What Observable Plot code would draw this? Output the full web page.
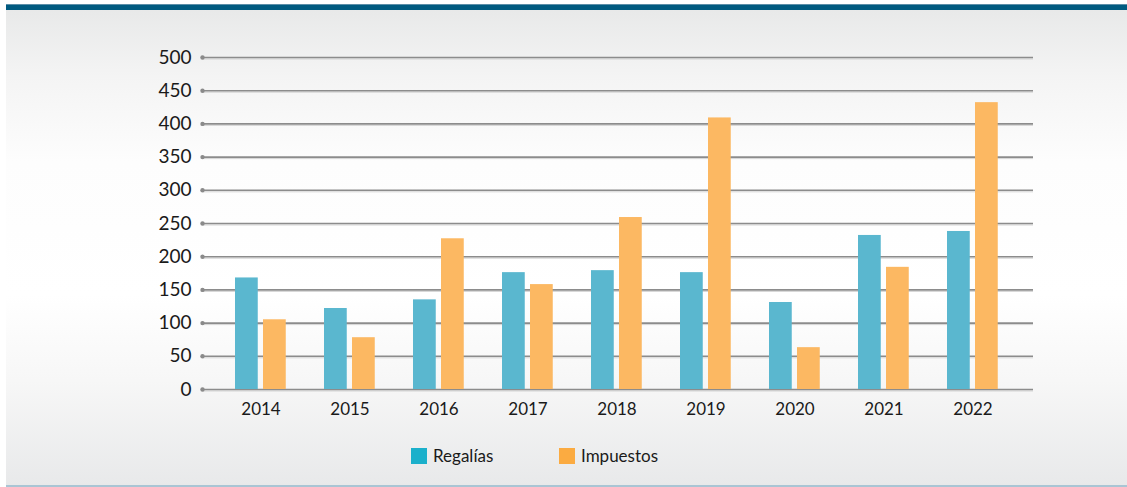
<!DOCTYPE html>
<html>
<head>
<meta charset="utf-8">
<script src="https://cdn.jsdelivr.net/npm/d3@7"></script>
<script src="https://cdn.jsdelivr.net/npm/@observablehq/plot@0.6"></script>
<style>
  html, body { margin: 0; padding: 0; background: #ffffff; }
  #panel { position: relative; width: 1127px; height: 487px; overflow: hidden; background: #ffffff; font-family: Lato, "Open Sans", sans-serif; }
  #bg { position: absolute; left: 6px; right: 0; top: 10px; height: 475px;
        background: linear-gradient(to bottom, #e8e9e9 0%, #f4f4f4 14%, #fdfdfd 32%, #ffffff 60%, #f7f7f7 78%, #e8e9ea 100%); }
  #band { position: absolute; left: 6px; right: 0; top: 4px; height: 5px; background: #005a80; border-top: 1px solid #5b8ea8; }
  #bottomline { position: absolute; left: 6px; right: 0; top: 485px; height: 2px; background: #a9c5d4; }
  #chart { position: absolute; left: 0; top: 0; }
  .leg { position: absolute; top: 445px; display: flex; align-items: center; font-size: 17px; color: #1a1a1a; }
  .sw { width: 16px; height: 16px; margin-right: 6px; }
</style>
</head>
<body>
<div id="panel">
  <div id="bg"></div>
  <div id="band"></div>
  <div id="bottomline"></div>
  <div id="chart"></div>
  <div class="leg" style="left:411px"><div class="sw" style="background:#1bb0cb"></div><span id="l0"></span></div>
  <div class="leg" style="left:559px"><div class="sw" style="background:#fbab41"></div><span id="l1"></span></div>
</div>
<script>
const years = ["2014", "2015", "2016", "2017", "2018", "2019", "2020", "2021", "2022"];
const regalias = [168, 122, 135, 176, 179, 176, 131, 232, 238];
const impuestos = [105, 78, 227, 158, 259, 409, 63, 184, 432];
const seriesNames = ["Regalías", "Impuestos"];
const yTicks = [0, 50, 100, 150, 200, 250, 300, 350, 400, 450, 500];

const rowsReg = years.map((y, i) => ({year: y, value: regalias[i]}));
const rowsImp = years.map((y, i) => ({year: y, value: impuestos[i]}));

document.getElementById("l0").textContent = seriesNames[0];
document.getElementById("l1").textContent = seriesNames[1];

const chart = Plot.plot({
  width: 1127,
  height: 430,
  marginLeft: 203,
  marginRight: 94,
  marginTop: 57,
  marginBottom: 41,
  style: {background: "transparent", fontFamily: "Lato, 'Open Sans', sans-serif", color: "#1a1a1a"},
  x: {type: "band", domain: years, range: [215, 1018], padding: 0},
  y: {domain: [0, 500]},
  marks: [
    Plot.ruleY(yTicks, {stroke: "#d4d4d4", strokeWidth: 1, dy: 1.5}),
    Plot.ruleY(yTicks, {stroke: "#8c8c8c", strokeWidth: 1.6}),
    Plot.dot(yTicks, {y: d => d, frameAnchor: "left", dx: -1, r: 2.2, fill: "#8a8a8a", stroke: null}),
    Plot.barY(rowsReg, {x: "year", y: "value", fill: "#5ab7cf", insetLeft: 19, insetRight: 47.25}),
    Plot.barY(rowsImp, {x: "year", y: "value", fill: "#fcb862", insetLeft: 47, insetRight: 19.25}),
    Plot.axisY({ticks: yTicks, tickSize: 0, tickPadding: 12, fontSize: 19, label: null, tickFormat: d => String(d), fill: "#1a1a1a"}),
    Plot.axisX({tickSize: 0, tickPadding: 13, fontSize: 17, label: null, fill: "#1a1a1a"})
  ]
});
document.getElementById("chart").appendChild(chart);
</script>
</body>
</html>
